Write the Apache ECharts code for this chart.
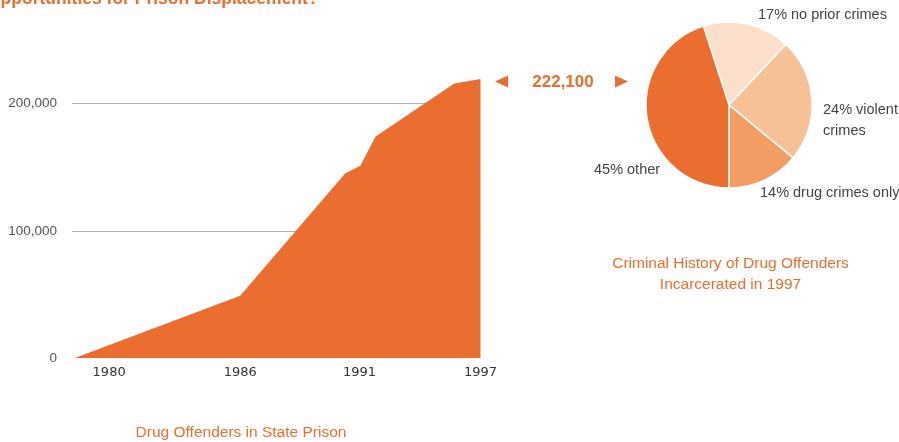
<!DOCTYPE html>
<html>
<head>
<meta charset="utf-8">
<script src="https://cdn.jsdelivr.net/npm/echarts@6/dist/echarts.min.js"></script>
<style>
html,body{margin:0;padding:0;background:#fff;}
#chart{width:899px;height:442px;}
</style>
</head>
<body>
<div id="chart"></div>
<script>
// ---- data ----
const years = [1978.4, 1986, 1990.8, 1991.5, 1992.2, 1995.8, 1997];
const offenders = [0, 49000, 145000, 151000, 174000, 215500, 219000];
const xTickYears = [1980, 1986, 1991, 1997];
const yTicks = [0, 100000, 200000];
const highlightLabel = '222,100';
const pieNames = ['17% no prior crimes', '24% violent\ncrimes', '14% drug crimes only', '45% other'];
const pieValues = [17, 24, 14, 45];
const pageTitle = 'Opportunities for Prison Displacement?';
const areaTitle = 'Drug Offenders in State Prison';
const pieTitle = 'Criminal History of Drug Offenders\nIncarcerated in 1997';

// ---- styles ----
const ORANGE = '#e96e2f';
const pieColors = ['#fcdfca', '#f7c197', '#f29d64', '#e96e2f'];
const labelPos = [
  {x: 758, y: 15},
  {x: 823, y: 120.5},
  {x: 760, y: 193},
  {x: 594, y: 170}
];

const chart = echarts.init(document.getElementById('chart'), null, {renderer: 'canvas'});
const fmt = v => String(v).replace(/\B(?=(\d{3})+(?!\d))/g, ',');

chart.setOption({
  animation: false,
  backgroundColor: '#fff',
  grid: {left: 72, right: 418.5, top: 77.8, bottom: 83.7, containLabel: false},
  xAxis: {
    type: 'value', min: 1978.3, max: 1997,
    axisLine: {show: false}, axisTick: {show: false}, splitLine: {show: false},
    axisLabel: {
      customValues: xTickYears, margin: 8,
      fontFamily: 'DejaVu Sans', fontSize: 13, color: '#333',
      formatter: v => v === 1991 ? '{s|' + v + '}' : '{n|' + v + '}',
      rich: {
        n: {fontFamily: 'DejaVu Sans', fontSize: 13, color: '#333'},
        s: {fontFamily: 'DejaVu Sans', fontSize: 13, color: '#333', padding: [0, 0, 0, 20]}
      }
    }
  },
  yAxis: {
    type: 'value', min: 0, max: 220000, interval: 100000,
    axisLine: {show: false}, axisTick: {show: false},
    splitLine: {show: true, showMinLine: false, showMaxLine: false, lineStyle: {color: '#b3b3b3', width: 1}},
    axisLabel: {
      margin: 15,
      fontFamily: 'Liberation Sans', fontSize: 13.5, color: '#555',
      formatter: v => yTicks.indexOf(v) >= 0 ? fmt(v) : ''
    }
  },
  series: [
    {
      type: 'line',
      data: years.map((y, i) => [y, offenders[i]]),
      symbol: 'none',
      lineStyle: {width: 0},
      areaStyle: {color: ORANGE, opacity: 1},
      silent: true,
      z: 3
    },
    {
      type: 'pie',
      center: [729, 105],
      radius: 83,
      startAngle: 108,
      clockwise: true,
      silent: true,
      itemStyle: {borderColor: '#fff', borderWidth: 1.5},
      labelLine: {show: false},
      label: {
        show: true, position: 'outside', overflow: 'none', width: 200,
        fontFamily: 'Liberation Sans', fontSize: 14.5, color: '#444', lineHeight: 21,
        formatter: p => p.name
      },
      labelLayout: p => ({
        x: labelPos[p.dataIndex].x, y: labelPos[p.dataIndex].y,
        align: 'left', verticalAlign: 'middle', hideOverlap: false
      }),
      data: pieNames.map((n, i) => ({name: n, value: pieValues[i], itemStyle: {color: pieColors[i]}}))
    }
  ],
  graphic: [
    {type: 'text', left: -13, top: -10, style: {text: pageTitle, fill: ORANGE, font: 'bold 17.5px "Liberation Sans"'}},
    {type: 'text', x: 241, y: 432.7, style: {text: areaTitle, fill: ORANGE, font: '15.5px "Liberation Sans"', align: 'center', verticalAlign: 'middle'}},
    {type: 'text', x: 730.5, y: 274.5, style: {text: pieTitle, fill: ORANGE, font: '15.5px "Liberation Sans"', align: 'center', verticalAlign: 'middle', lineHeight: 21}},
    {type: 'text', x: 563, y: 82.5, style: {text: highlightLabel, fill: ORANGE, font: 'bold 17px "Liberation Sans"', align: 'center', verticalAlign: 'middle'}},
    {type: 'polygon', shape: {points: [[495, 81.5], [508, 75.5], [508, 87.5]]}, style: {fill: ORANGE}},
    {type: 'polygon', shape: {points: [[628, 81.5], [615, 75.5], [615, 87.5]]}, style: {fill: ORANGE}}
  ]
});
</script>
</body>
</html>
